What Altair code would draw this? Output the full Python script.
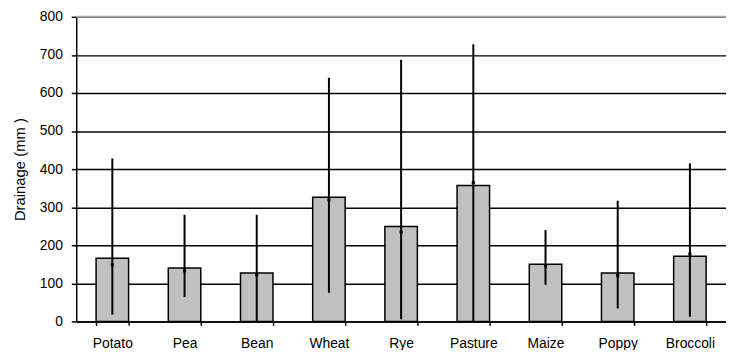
import altair as alt
import pandas as pd

crops = ["Potato", "Pea", "Bean", "Wheat", "Rye", "Pasture", "Maize", "Poppy", "Broccoli"]
drainage = [166, 140, 127, 326, 249, 357, 150, 127, 171]
marker = [149, 133, 122, 319, 235, 365, 146, 120, 177]
low = [18, 64, 0, 75, 6, 0, 96, 34, 12]
high = [428, 280, 280, 640, 687, 728, 240, 317, 415]
top_line = [800]

df = pd.DataFrame({"crop": crops, "drainage": drainage, "marker": marker,
                   "low": low, "high": high})
top_df = pd.DataFrame({"v": top_line})

FONT = "Liberation Sans"

x_scale = alt.Scale(paddingInner=0.55, paddingOuter=0.275)
x_axis = alt.Axis(labelAngle=0, labelFont=FONT, labelFontSize=14, labelColor="black",
                  tickBand="extent", tickSize=4, tickColor="black", tickWidth=1.5,
                  domainColor="black", domainWidth=1.5, labelPadding=11, grid=False)

y_scale = alt.Scale(domain=[0, 800], nice=False, zero=True)
y_axis = alt.Axis(tickCount=8, labelFont=FONT, labelFontSize=14, labelColor="black",
                  titleFont=FONT, titleFontSize=15, titleFontWeight="normal",
                  titleColor="black", titlePadding=12,
                  tickSize=5, tickColor="black", tickWidth=1.5, labelPadding=9,
                  domainColor="black", domainWidth=1.5,
                  grid=True, gridWidth=1.5, gridColor="black")

TITLE = "Drainage (mm )"

bars = alt.Chart(df).mark_bar(fill="#c0c0c0", stroke="black", strokeWidth=1.5).encode(
    x=alt.X("crop:N", sort=crops, title=None, scale=x_scale, axis=x_axis),
    y=alt.Y("drainage:Q", scale=y_scale, title=TITLE, axis=y_axis),
)

errs = alt.Chart(df).mark_rule(color="black", strokeWidth=2).encode(
    x=alt.X("crop:N", sort=crops),
    y=alt.Y("low:Q"),
    y2="high:Q",
)

dots = alt.Chart(df).mark_square(color="black", size=10, opacity=1).encode(
    x=alt.X("crop:N", sort=crops),
    y=alt.Y("marker:Q"),
)

top = alt.Chart(top_df).mark_rule(color="#a8a8a8", strokeWidth=2).encode(
    y=alt.Y("v:Q")
)

chart = alt.layer(bars, errs, dots, top).properties(
    width=657, height=308,
    autosize=alt.AutoSizeParams(type="none"),
    padding={"left": 69, "top": 7, "right": 0, "bottom": 27},
    background="white",
).configure_view(stroke=None)

chart.save("out.html", embed_options={"renderer": "svg", "actions": False})
